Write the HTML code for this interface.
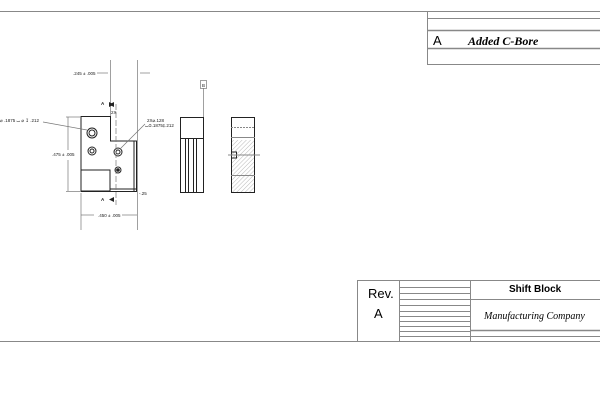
<!DOCTYPE html><html><head><style>body{margin:0;background:#fff}svg{display:block}</style></head><body>
<svg width="600" height="400" xmlns="http://www.w3.org/2000/svg" font-family="Liberation Sans, sans-serif">
<defs><pattern id="h" width="3" height="3" patternUnits="userSpaceOnUse" patternTransform="rotate(45)"><line x1="0" y1="0" x2="0" y2="3" stroke="#999" stroke-width="0.7"/></pattern></defs>
<g stroke="#888" fill="none" stroke-width="1">
<line x1="0" y1="11.5" x2="600" y2="11.5"/>
<line x1="0" y1="341.5" x2="600" y2="341.5"/>
<line x1="427.5" y1="11" x2="427.5" y2="65"/>
<line x1="427" y1="18.5" x2="600" y2="18.5"/>
<line x1="427" y1="30.5" x2="600" y2="30.5" stroke-width="1.5"/>
<line x1="427" y1="48.5" x2="600" y2="48.5" stroke-width="1.5"/>
<line x1="427" y1="64.5" x2="600" y2="64.5"/>
<line x1="357.5" y1="280" x2="357.5" y2="341"/>
<line x1="357" y1="280.5" x2="600" y2="280.5"/>
<line x1="399.5" y1="280" x2="399.5" y2="341"/>
<line x1="470.5" y1="280" x2="470.5" y2="341"/>
<line x1="399" y1="287.5" x2="470" y2="287.5"/>
<line x1="399" y1="293.5" x2="470" y2="293.5"/>
<line x1="399" y1="299.5" x2="470" y2="299.5"/>
<line x1="399" y1="305.5" x2="470" y2="305.5"/>
<line x1="399" y1="311.5" x2="470" y2="311.5"/>
<line x1="399" y1="316.5" x2="470" y2="316.5"/>
<line x1="399" y1="321.5" x2="470" y2="321.5"/>
<line x1="399" y1="326.5" x2="470" y2="326.5"/>
<line x1="399" y1="331.5" x2="470" y2="331.5"/>
<line x1="399" y1="336.5" x2="470" y2="336.5"/>
<line x1="470" y1="299.5" x2="600" y2="299.5"/>
<line x1="470" y1="330.5" x2="600" y2="330.5" stroke-width="1.5"/>
<line x1="470" y1="336.5" x2="600" y2="336.5"/>
</g>
<text x="433" y="45" font-size="13">A</text>
<text x="468" y="45" font-size="12" font-style="italic" font-weight="bold" font-family="Liberation Serif, serif">Added C-Bore</text>
<text x="368" y="298" font-size="13">Rev.</text>
<text x="374" y="318" font-size="13">A</text>
<text x="509" y="292" font-size="10" font-weight="bold">Shift Block</text>
<text x="484" y="319" font-size="10" font-style="italic" font-family="Liberation Serif, serif">Manufacturing Company</text>
<g stroke="#222" fill="none" stroke-width="1">
<path d="M81 116.5H110.5V141H136.5V191.5H81Z"/>
<rect x="81" y="170" width="29" height="21"/>
<circle cx="92" cy="133" r="5"/><circle cx="92" cy="133" r="3"/>
<circle cx="92" cy="151" r="4"/><circle cx="92" cy="151" r="2"/>
<circle cx="118" cy="152" r="4"/><circle cx="118" cy="152" r="2"/>
<circle cx="118" cy="170" r="3"/><circle cx="118" cy="170" r="1.3" fill="#222"/>
<line x1="134" y1="141" x2="134" y2="191"/>
<line x1="110" y1="189" x2="136" y2="189"/>
<rect x="180.5" y="117.5" width="23" height="75"/>
<line x1="180" y1="138.5" x2="204" y2="138.5"/>
<line x1="185.5" y1="138" x2="185.5" y2="192"/><line x1="188.5" y1="138" x2="188.5" y2="192"/>
<line x1="193.5" y1="138" x2="193.5" y2="192"/><line x1="196.5" y1="138" x2="196.5" y2="192"/>
<rect x="231" y="140" width="23" height="35" fill="url(#h)" stroke="none"/>
<rect x="231" y="176" width="23" height="16" fill="url(#h)" stroke="none"/>
<rect x="231.5" y="117.5" width="23" height="75"/>
<line x1="231" y1="137.5" x2="255" y2="137.5" stroke="#888"/>
<line x1="231" y1="127.5" x2="255" y2="127.5" stroke="#888" stroke-dasharray="2 1"/>
<line x1="231" y1="175.5" x2="255" y2="175.5" stroke="#888"/>
<rect x="231.5" y="152" width="5" height="6"/>
<line x1="228" y1="155" x2="260" y2="155" stroke="#888"/>
</g>
<g stroke="#777" fill="none" stroke-width="0.7">
<line x1="110.5" y1="60" x2="110.5" y2="116"/>
<line x1="137.5" y1="60" x2="137.5" y2="230"/>
<line x1="97" y1="73" x2="108" y2="73"/><line x1="140" y1="73" x2="150" y2="73"/>
<line x1="116" y1="104" x2="116" y2="205" stroke-dasharray="6 2"/>
<line x1="66" y1="117" x2="80" y2="117"/><line x1="66" y1="191.5" x2="80" y2="191.5"/>
<line x1="68" y1="117" x2="68" y2="150"/><line x1="68" y1="160" x2="68" y2="191"/>
<line x1="81" y1="193" x2="81" y2="230"/>
<line x1="81" y1="215" x2="94" y2="215"/><line x1="122" y1="215" x2="137" y2="215"/>
<line x1="43" y1="122" x2="87" y2="130"/>
<line x1="145" y1="124" x2="120" y2="149"/>
<line x1="203.5" y1="88" x2="203.5" y2="117"/>
<rect x="200.5" y="80.5" width="6" height="8"/>
</g>
<g fill="#222" font-size="4.5">
<text x="73" y="75">.245 ± .005</text>
<text x="111" y="114">2X</text>
<text x="52" y="156">.475 ± .005</text>
<text x="98" y="217">.450 ± .005</text>
<text x="0" y="122">⌀ .1875 ⌴ ⌀ ↧ .212</text>
<text x="147" y="122">2X⌀.128</text>
<text x="145" y="127">⌴⌀.1875↧.212</text>
<text x="139" y="195">-.25</text>
<text x="202" y="87">B</text>
<text x="101" y="105" font-weight="bold">A</text>
<text x="101" y="201" font-weight="bold">A</text>
<path d="M109 102l5 2.5-5 2.5z"/><path d="M109 197l5 2.5-5 2.5z" transform="rotate(180 111.5 199.5)"/>
<path d="M114 102l-5 2.5 5 2.5z"/>
</g>
</svg></body></html>
